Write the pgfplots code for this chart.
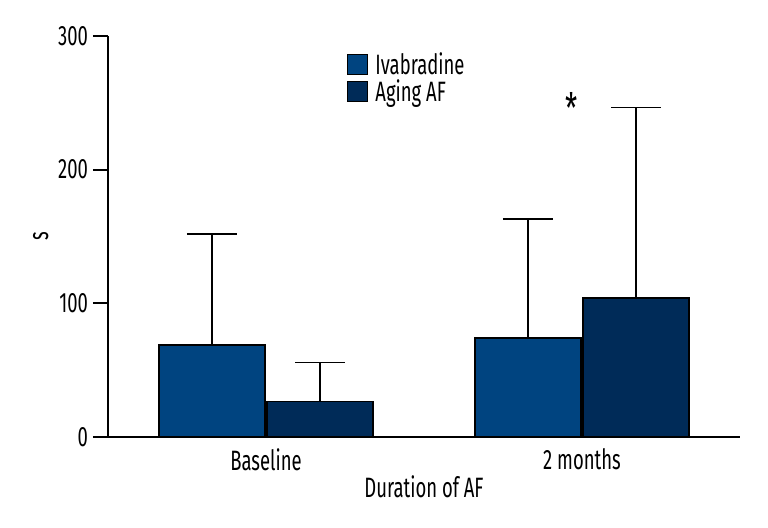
\documentclass[border=0pt]{standalone}
\usepackage{pgfplots}
\pgfplotsset{compat=1.18}
\usepackage{fontspec}
\setmainfont{Fira Sans}[FakeStretch=0.66]
\definecolor{ivab}{RGB}{0,68,128}
\definecolor{aging}{RGB}{0,43,88}
\begin{document}
\begin{tikzpicture}
\path[use as bounding box] (-54pt,-45.65pt) rectangle (330pt,218.35pt);
\begin{axis}[
  at={(0,0)}, anchor=south west,
  scale only axis, width=316pt, height=200.35pt,
  xmin=-0.5, xmax=1.5, ymin=0, ymax=300,
  axis x line=bottom, axis y line=left,
  axis line style={line width=1pt, -},
  xtick={0,1}, xticklabels={Baseline,2 months},
  x tick style={draw=none},
  ytick={0,100,200,300},
  y tick style={line width=1pt, black},
  tick align=outside, major tick length=7.5pt,
  /pgf/number format/assume math mode=true,
  tick label style={font=\fontsize{14}{16}\selectfont},
  yticklabel style={xshift=1pt},
  xticklabel style={yshift=5pt},
  label style={font=\fontsize{14}{16}\selectfont},
  xlabel={Duration of AF},
  xlabel style={yshift=4.5pt},
  ylabel={s},
  ylabel style={yshift=-2pt},
  ybar, bar width=0.335,
  legend style={draw=none, fill=none, at={(0.378,0.97)}, anchor=north west,
    inner sep=0pt, font=\fontsize{14}{16}\selectfont, row sep=-3pt,
    /tikz/every even column/.append style={column sep=0pt}},
  legend image code/.code={\draw[#1,draw=black,line width=0.6pt] (0pt,-5pt) rectangle (10pt,5pt);},
  legend cell align=left,
  legend style={nodes={inner xsep=3.5pt}},
  error bars/y dir=plus, error bars/y explicit,
  error bars/error bar style={line width=0.75pt, black},
  error bars/error mark options={line width=0.75pt, black, mark size=12.5pt, rotate=90},
]
\addplot[fill=ivab, draw=black, line width=0.8pt, bar shift=-0.171] coordinates {(0,68.7) +- (0,82.9) (1,73.7) +- (0,89.3)};
\addlegendentry{Ivabradine}
\addplot[fill=aging, draw=black, line width=0.8pt, bar shift=0.171] coordinates {(0,26.2) +- (0,29.5) (1,103.9) +- (0,142.4)};
\addlegendentry{Aging AF}
\node[font=\fontsize{21}{21}\selectfont, inner sep=0pt] at (axis cs:0.968,246) {*};
\end{axis}
\end{tikzpicture}
\end{document}
